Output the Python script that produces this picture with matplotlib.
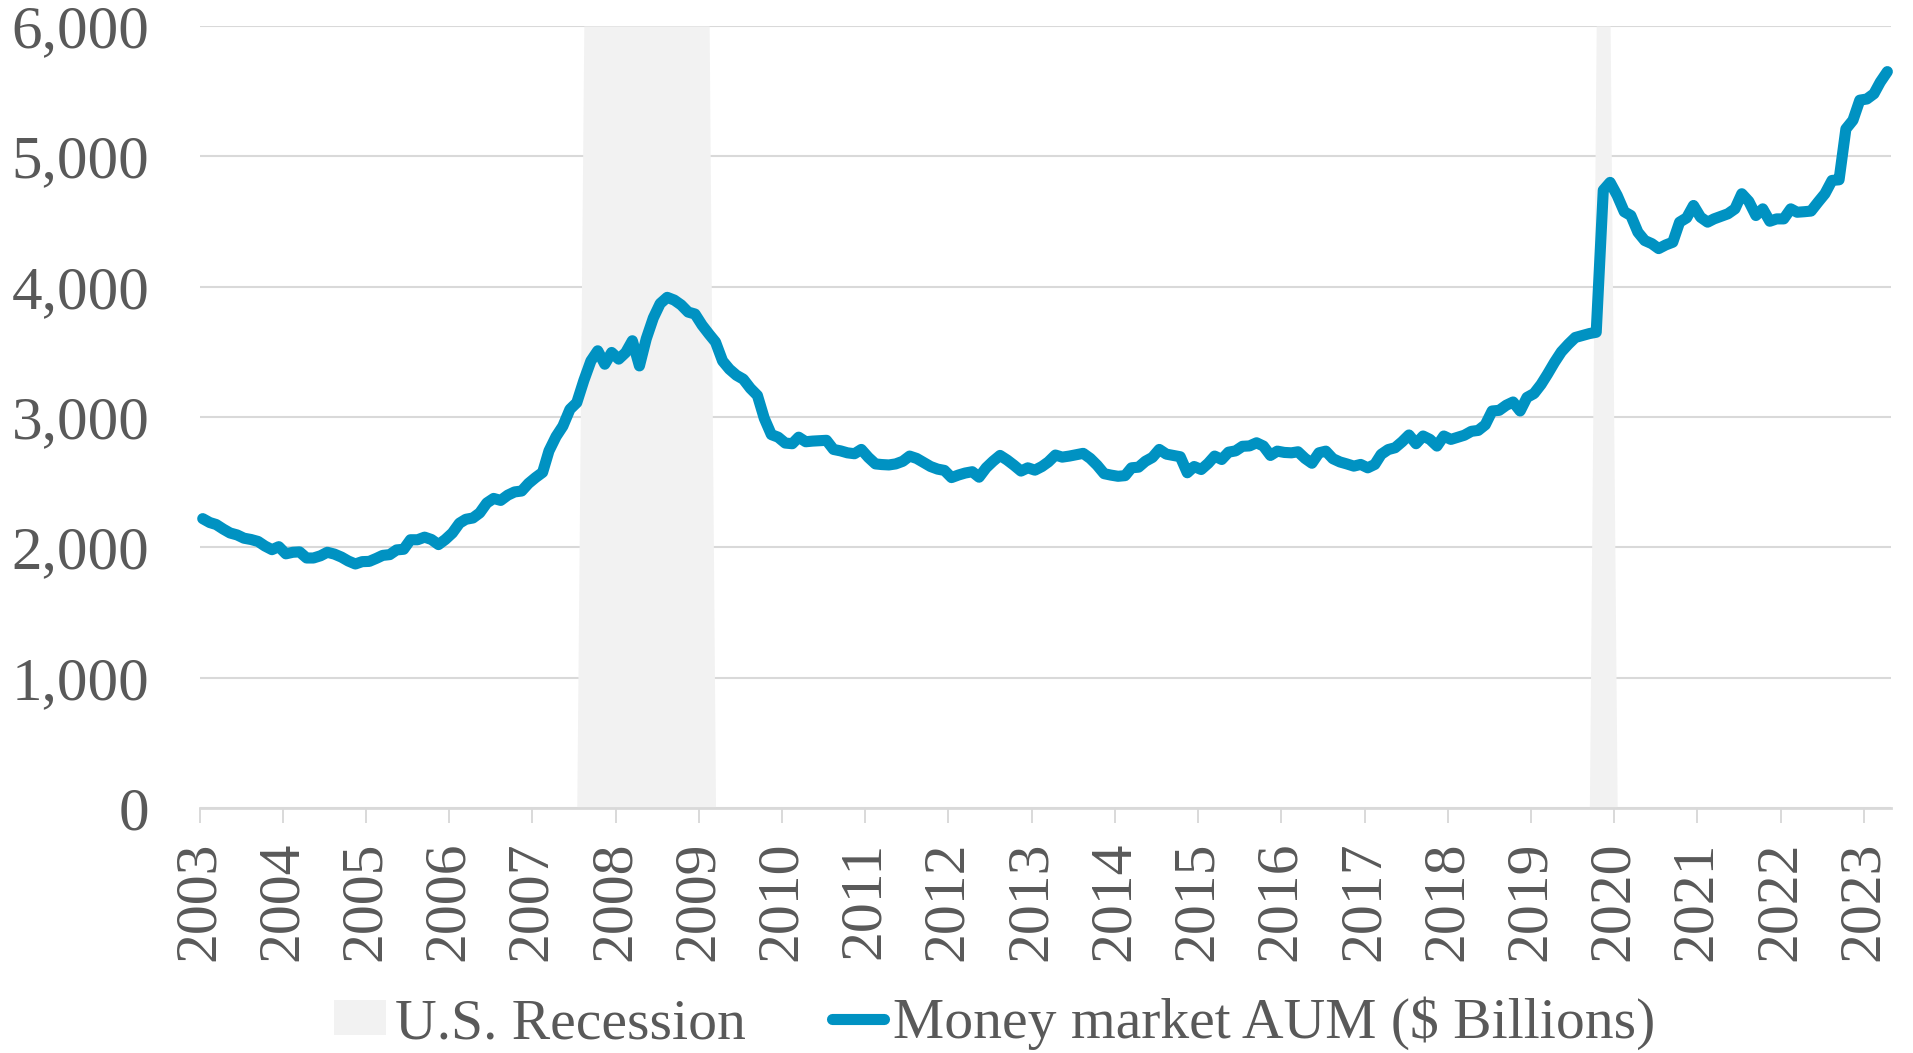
"""Money market fund AUM vs U.S. recessions, monthly 2003-2023."""

import matplotlib.pyplot as plt
import matplotlib.dates as mdates
import matplotlib.ticker as mticker
import numpy as np
import pandas as pd

# monthly AUM, $ billions (Jan 2003 .. Apr 2023)
aum_2003 = [2220, 2190, 2175, 2140, 2110, 2095, 2070, 2060, 2045, 2010, 1982, 2005]
aum_2004 = [1950, 1962, 1965, 1918, 1918, 1935, 1962, 1948, 1925, 1895, 1872, 1890]
aum_2005 = [1892, 1915, 1938, 1944, 1980, 1985, 2058, 2058, 2078, 2060, 2021, 2060]
aum_2006 = [2110, 2185, 2215, 2225, 2264, 2340, 2375, 2360, 2400, 2425, 2432, 2490]
aum_2007 = [2535, 2575, 2740, 2850, 2930, 3059, 3110, 3280, 3430, 3508, 3405, 3495]
aum_2008 = [3444, 3495, 3585, 3392, 3600, 3760, 3870, 3918, 3897, 3860, 3805, 3790]
aum_2009 = [3705, 3635, 3575, 3430, 3367, 3320, 3290, 3220, 3165, 2990, 2865, 2845]
aum_2010 = [2800, 2795, 2845, 2810, 2815, 2818, 2821, 2751, 2740, 2725, 2718, 2751]
aum_2011 = [2690, 2640, 2635, 2632, 2640, 2660, 2700, 2682, 2650, 2620, 2600, 2590]
aum_2012 = [2535, 2555, 2570, 2580, 2538, 2610, 2660, 2705, 2670, 2630, 2585, 2610]
aum_2013 = [2592, 2620, 2655, 2708, 2692, 2700, 2710, 2721, 2682, 2630, 2565, 2554]
aum_2014 = [2545, 2550, 2610, 2615, 2660, 2690, 2751, 2715, 2705, 2695, 2572, 2620]
aum_2015 = [2597, 2645, 2700, 2674, 2730, 2740, 2775, 2778, 2802, 2777, 2705, 2738]
aum_2016 = [2728, 2725, 2733, 2682, 2645, 2725, 2738, 2680, 2655, 2640, 2623, 2636]
aum_2017 = [2610, 2636, 2713, 2750, 2764, 2810, 2862, 2795, 2854, 2828, 2777, 2854]
aum_2018 = [2828, 2845, 2860, 2890, 2897, 2940, 3046, 3051, 3090, 3115, 3046, 3150]
aum_2019 = [3180, 3250, 3328, 3420, 3500, 3559, 3610, 3625, 3640, 3650, 4740, 4800]
aum_2020 = [4700, 4575, 4546, 4418, 4354, 4330, 4292, 4320, 4341, 4495, 4528, 4623]
aum_2021 = [4533, 4495, 4520, 4540, 4559, 4597, 4713, 4654, 4546, 4597, 4502, 4520]
aum_2022 = [4520, 4597, 4571, 4575, 4580, 4649, 4713, 4815, 4820, 5210, 5277, 5431]
aum_2023 = [5440, 5480, 5570, 5650]

# recession months as shaded on the chart (inclusive)
recessions = [("2007-08", "2009-02"), ("2019-10", "2019-12")]

year_ticks = list(range(2003, 2024))
y_ticks = [0, 1000, 2000, 3000, 4000, 5000, 6000]

LINE = "#0092C2"
SHADE = "#F2F2F2"
GRID = "#D9D9D9"
TEXT = "#595959"

plt.rcParams["font.family"] = ["Liberation Serif", "DejaVu Serif"]


def main() -> None:
    aum = np.array(aum_2003 + aum_2004 + aum_2005 + aum_2006 + aum_2007 + aum_2008
                   + aum_2009 + aum_2010 + aum_2011 + aum_2012 + aum_2013 + aum_2014
                   + aum_2015 + aum_2016 + aum_2017 + aum_2018 + aum_2019 + aum_2020
                   + aum_2021 + aum_2022 + aum_2023, dtype=float)
    months = pd.period_range("2003-01", periods=len(aum), freq="M")
    # points sit mid-month on the date axis
    dates = months.to_timestamp() + pd.Timedelta(days=14)

    in_rec = np.zeros(len(months))
    for start, end in recessions:
        in_rec[(months >= pd.Period(start, "M")) & (months <= pd.Period(end, "M"))] = 1
    ymax = y_ticks[-1]

    fig = plt.figure(figsize=(19.13, 10.53), dpi=100)
    ax = fig.add_axes([0.1043, 0.2327, 0.8842, 0.7426])

    ax.fill_between(dates, 0, in_rec * ymax, color=SHADE, linewidth=0, zorder=1,
                    label="U.S. Recession")
    ax.plot(dates, aum, color=LINE, linewidth=8, solid_joinstyle="round",
            solid_capstyle="round", zorder=3, clip_on=False,
            label="Money market AUM ($ Billions)")

    ax.set_xlim(pd.Timestamp("2003-01-01"), pd.Timestamp("2023-05-01"))
    ax.set_ylim(0, ymax)
    ax.set_xticks([pd.Timestamp(f"{y}-01-01") for y in year_ticks])
    ax.xaxis.set_major_formatter(mdates.DateFormatter("%Y"))
    ax.set_yticks(y_ticks)
    ax.yaxis.set_major_formatter(mticker.StrMethodFormatter("{x:,.0f}"))

    ax.tick_params(axis="x", length=11, width=1.4, color=GRID, pad=13,
                   labelsize=43, labelcolor=TEXT, labelrotation=90)
    ax.tick_params(axis="y", length=0, pad=36, labelsize=44, labelcolor=TEXT)

    ax.grid(axis="y", color=GRID, linewidth=1.5)
    ax.set_axisbelow(True)
    for side in ["top", "right", "left"]:
        ax.spines[side].set_visible(False)
    ax.spines["bottom"].set_color(GRID)
    ax.spines["bottom"].set_linewidth(2)
    ax.spines["bottom"].set_zorder(2)

    fig.legend(loc="center", bbox_to_anchor=(0.52, 0.028), ncol=2, frameon=False,
               fontsize=41.5, labelcolor=TEXT, handlelength=0.9, handleheight=0.55,
               handletextpad=0.15, columnspacing=1.5, borderpad=0)

    fig.savefig("out.png", dpi=100)


if __name__ == "__main__":
    main()
